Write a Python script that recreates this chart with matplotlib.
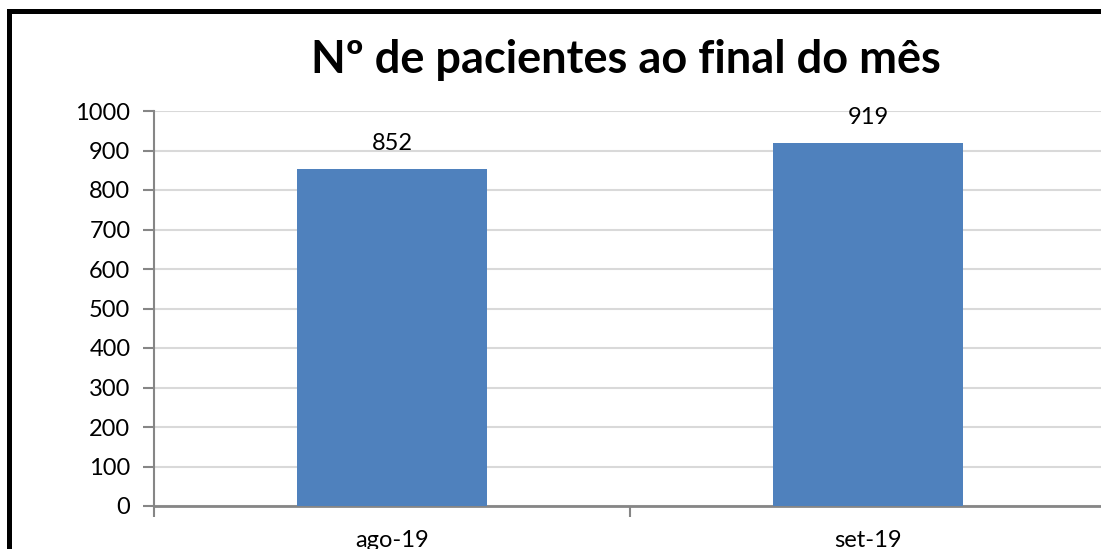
import matplotlib.pyplot as plt
from matplotlib.lines import Line2D

meses = ["ago-19", "set-19"]
pacientes = [852, 919]
titulo = "Nº de pacientes ao final do mês"

plt.rcParams['font.family'] = ['Lato', 'DejaVu Sans']

fig = plt.figure(figsize=(11.01, 5.49), dpi=100)
ax = fig.add_axes([154 / 1101, 1 - 506 / 549, 952 / 1101, (506 - 111) / 549])

x = range(len(meses))
bars = ax.bar(x, pacientes, width=0.4, color='#4f81bd', zorder=3)
for b, v in zip(bars, pacientes):
    ax.text(b.get_x() + b.get_width() / 2, v + 48, str(v), ha='center', va='baseline', fontsize=17)

ax.set_xlim(-0.5, 1.5)
ax.set_ylim(0, 1000)
ax.set_yticks(range(0, 1001, 100))
ax.set_xticks(list(x))
ax.set_xticklabels(meses)
ax.set_xticks([-0.5, 0.5], minor=True)
ax.tick_params(axis='x', which='major', length=0, pad=17, labelsize=17)
ax.tick_params(axis='x', which='minor', length=8, width=1.5, color='#868686')
ax.tick_params(axis='y', length=8, width=1.5, color='#868686', labelsize=17, pad=9)
ax.grid(axis='y', color='#d9d9d9', linewidth=1.5, zorder=0)
for s in ['top', 'right']:
    ax.spines[s].set_visible(False)
ax.spines['left'].set_color('#868686')
ax.spines['bottom'].set_color('#868686')
ax.spines['left'].set_linewidth(1.5)
ax.spines['bottom'].set_linewidth(2)

fig.text(626 / 1101, 1 - 73 / 549, titulo, ha='center', va='baseline', fontsize=32.5, fontweight='bold')

# moldura preta (só esquerda e topo aparecem)
fig.add_artist(Line2D([8.5 / 1101, 8.5 / 1101], [-0.05, 1 - 10.5 / 549], transform=fig.transFigure,
                      color='black', linewidth=3.6, solid_capstyle='projecting'))
fig.add_artist(Line2D([8.5 / 1101, 1.05], [1 - 10.5 / 549, 1 - 10.5 / 549], transform=fig.transFigure,
                      color='black', linewidth=3.6, solid_capstyle='projecting'))

fig.savefig('out.png', dpi=100)
